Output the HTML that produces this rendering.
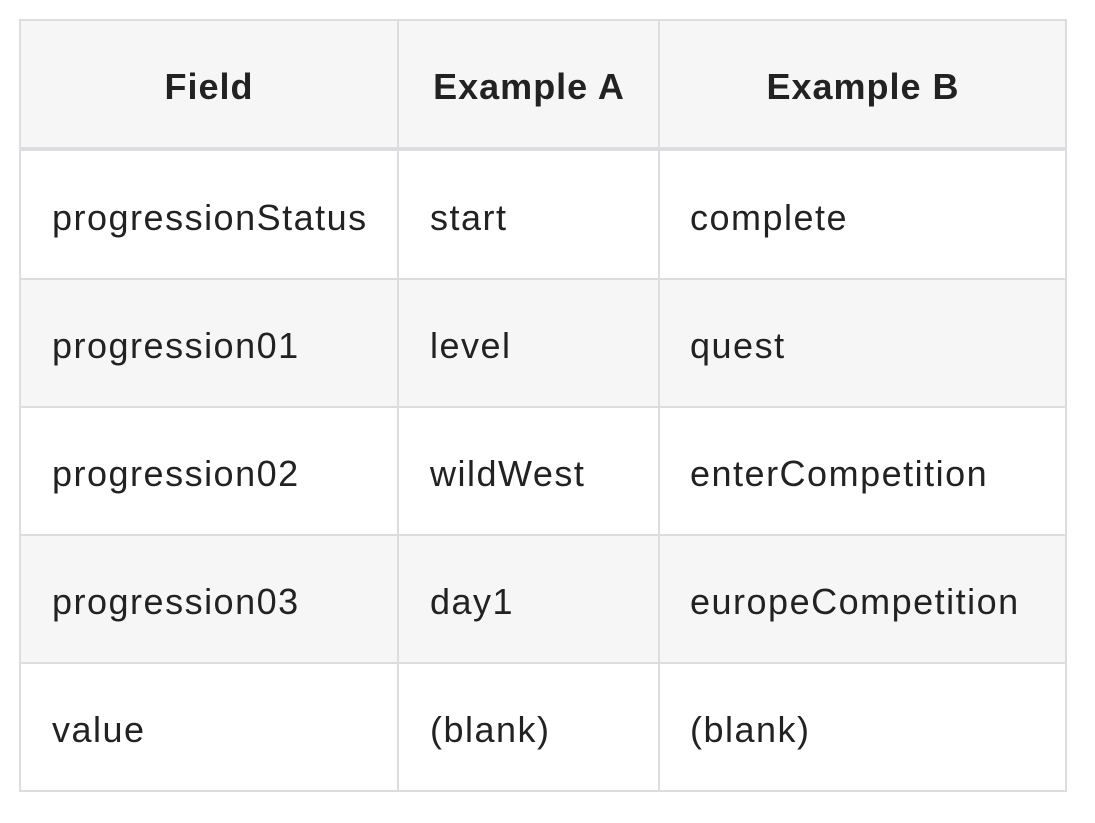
<!DOCTYPE html>
<html><head><meta charset="utf-8"><style>
body{margin:0;width:1095px;height:823px;background:#fff;position:relative;overflow:hidden;font-family:"Liberation Sans",sans-serif;color:#222;}
.bg{position:absolute;background:#f6f6f6;left:19px;width:1048px;}
.v{position:absolute;width:2px;top:19px;height:773px;background:#dcdde0;}
.h{position:absolute;height:2px;left:19px;width:1048px;background:#dcdde0;}
.t{position:absolute;font-size:36px;letter-spacing:1.5px;line-height:40px;white-space:nowrap;}
.hd{position:absolute;font-size:36px;font-weight:bold;letter-spacing:1px;line-height:40px;text-align:center;top:67px;}
</style></head><body>
<div class="bg" style="top:19px;height:130px"></div>
<div class="bg" style="top:279px;height:128px"></div>
<div class="bg" style="top:535px;height:128px"></div>
<div class="h" style="top:19px"></div>
<div class="h" style="top:147px;height:4px"></div>
<div class="h" style="top:278px"></div>
<div class="h" style="top:406px"></div>
<div class="h" style="top:534px"></div>
<div class="h" style="top:662px"></div>
<div class="h" style="top:790px"></div>
<div class="v" style="left:19px"></div>
<div class="v" style="left:397px"></div>
<div class="v" style="left:658px"></div>
<div class="v" style="left:1065px"></div>
<div class="hd" style="left:19px;width:380px">Field</div>
<div class="hd" style="left:399px;width:260px">Example A</div>
<div class="hd" style="left:660px;width:406px">Example B</div>

<div class="t" style="left:52px;top:198px">progressionStatus</div>
<div class="t" style="left:430px;top:198px">start</div>
<div class="t" style="left:690px;top:198px">complete</div>

<div class="t" style="left:52px;top:326px">progression01</div>
<div class="t" style="left:430px;top:326px">level</div>
<div class="t" style="left:690px;top:326px">quest</div>

<div class="t" style="left:52px;top:454px">progression02</div>
<div class="t" style="left:430px;top:454px">wildWest</div>
<div class="t" style="left:690px;top:454px">enterCompetition</div>

<div class="t" style="left:52px;top:582px">progression03</div>
<div class="t" style="left:430px;top:582px">day1</div>
<div class="t" style="left:690px;top:582px">europeCompetition</div>

<div class="t" style="left:52px;top:710px">value</div>
<div class="t" style="left:430px;top:710px">(blank)</div>
<div class="t" style="left:690px;top:710px">(blank)</div>
</body></html>
